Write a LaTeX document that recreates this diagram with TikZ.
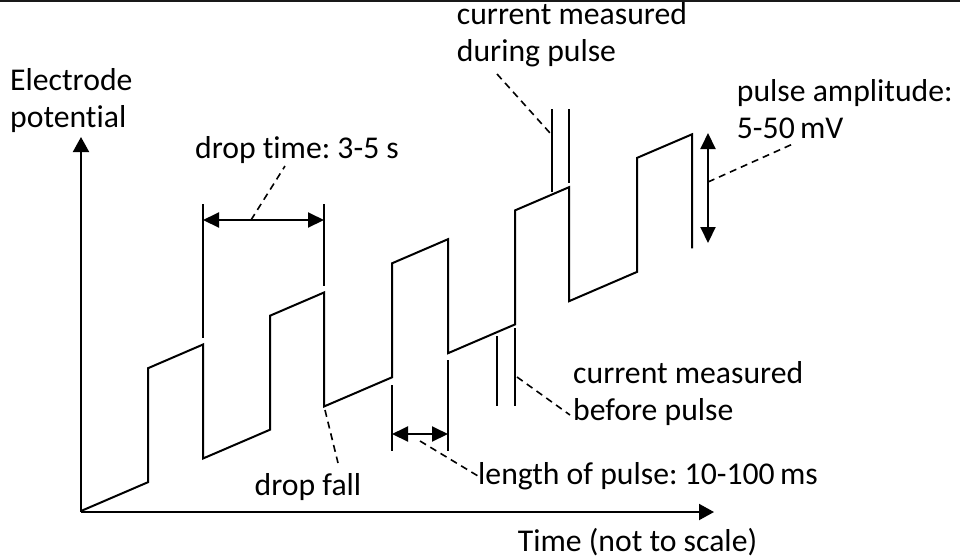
\documentclass[tikz,border=0pt]{standalone}
\usepackage{fontspec}
\setmainfont{Carlito}[Ligatures=NoCommon]
\usetikzlibrary{arrows.meta}
\frenchspacing
\begin{document}
\begin{tikzpicture}[x=1pt,y=-1pt,
  wave/.style={line width=2pt, line join=miter},
  marker/.style={line width=2pt},
  dimarrow/.style={line width=2pt, {Triangle[length=16pt,width=15pt]}-{Triangle[length=16pt,width=15pt]}},
  axisarrow/.style={line width=2pt, -{Triangle[length=15pt,width=16pt]}},
  leader/.style={line width=1.6pt, dash pattern=on 7pt off 5pt},
  lbl/.style={inner sep=0pt, font=\fontsize{31.7}{37}\selectfont, align=left}]
\useasboundingbox (0,0) rectangle (960,558);
\draw[line width=1.5pt, black!90] (0,0.75) -- (960,0.75);
% axes
\coordinate (O) at (81,512);
\coordinate (ytop) at (81,137);
\coordinate (xend) at (714,512);
\draw[axisarrow] (O) -- (ytop);
\draw[axisarrow] (O) -- (xend);
% waveform
\draw[wave] (81,511)--(148,482.2)--(148,368.2)--(203,344.5)--(203,458.5)--(270,429.7)--(270,315.7)--(324,292.5)--(324,406.5)--(392,377.3)--(392,263.3)--(448,239.2)--(448,353.2)--(515,324.4)--(515,210.4)--(569,187.2)--(569,301.2)--(637,271.9)--(637,157.9)--(692,134.3)--(692,248.3);
% drop time
\draw[marker] (203,204) -- (203,338);
\draw[marker] (324,204) -- (324,286);
\coordinate (dtL) at (203,220);
\coordinate (dtR) at (324,220);
\draw[dimarrow] (dtL) -- (dtR);
\node[lbl] (droptime) at (297,150) {drop time: 3-5 s};
\coordinate (dtA) at (251,220);
\coordinate (dtB) at (285,166);
\draw[leader] (dtA) -- (dtB);
% pulse length
\draw[marker] (392,385) -- (392,451);
\draw[marker] (448,360) -- (448,451);
\coordinate (plL) at (392,434);
\coordinate (plR) at (448,434);
\draw[dimarrow] (plL) -- (plR);
\node[lbl, anchor=west] (plen) at (478,476) {length of pulse: 10-100\,ms};
\coordinate (plA) at (420,441);
\draw[leader] (plA) -- (plen.west);
% current before pulse
\draw[marker] (497,336) -- (497,406);
\draw[marker] (515,328) -- (515,406);
\node[lbl, anchor=west] (before) at (573,394) {current measured\\before pulse};
\coordinate (bpA) at (517,377);
\coordinate (bpB) at (570,415);
\draw[leader] (bpA) -- (bpB);
% current during pulse
\draw[marker] (552,109) -- (552,192);
\draw[marker] (569,109) -- (569,183);
\node[lbl, anchor=west] (during) at (456.7,35) {current measured\\during pulse};
\coordinate (dpA) at (497,74);
\coordinate (dpB) at (550,133);
\draw[leader] (dpA) -- (dpB);
% pulse amplitude
\coordinate (paT) at (708,133);
\coordinate (paB) at (708,243);
\draw[dimarrow] (paT) -- (paB);
\node[lbl, anchor=west] (ampl) at (736.7,109) {pulse amplitude:\\5-50\,mV};
\coordinate (paA) at (708,182);
\coordinate (paC) at (795,143);
\draw[leader] (paA) -- (paC);
% drop fall
\node[lbl] (dropfall) at (308,487) {drop fall};
\coordinate (dfA) at (325,410);
\coordinate (dfB) at (338,463);
\draw[leader] (dfA) -- (dfB);
% axis labels
\node[lbl, anchor=west] (ylabel) at (10,101) {Electrode\\potential};
\node[lbl] (xlabel) at (637.5,542) {Time (not to scale)};
\end{tikzpicture}
\end{document}
